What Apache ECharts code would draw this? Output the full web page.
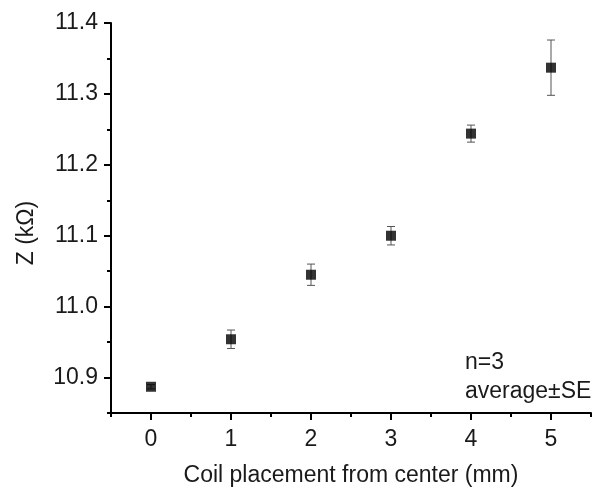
<!DOCTYPE html>
<html>
<head>
<meta charset="utf-8">
<script src="https://cdn.jsdelivr.net/npm/echarts@6/dist/echarts.min.js"></script>
<style>
  html, body { margin: 0; padding: 0; background: #fff; }
  #chart { width: 597px; height: 489px; }
</style>
</head>
<body>
<div id="chart"></div>
<script>
// coil offset (mm) vs impedance, mean and standard error
var placement = [0, 1, 2, 3, 4, 5];
var zMean = [10.887, 10.954, 11.045, 11.100, 11.244, 11.337];
var zSE = [0.003, 0.013, 0.015, 0.013, 0.012, 0.039];

var xMajor = [0, 1, 2, 3, 4, 5];
var xMinor = [-0.5, 0.5, 1.5, 2.5, 3.5, 4.5, 5.5];
var yMajor = [10.9, 11.0, 11.1, 11.2, 11.3, 11.4];
var yMinor = [10.85, 10.95, 11.05, 11.15, 11.25, 11.35];

var font = 'Liberation Sans, Arial, sans-serif';
var ink = '#1a1a1a';
var fs = 23;

var points = placement.map(function (x, i) { return [x, zMean[i]]; });
var bars = placement.map(function (x, i) { return [x, zMean[i] - zSE[i], zMean[i] + zSE[i]]; });

function errorBar(params, api) {
  var x = api.value(0);
  var lo = api.coord([x, api.value(1)]);
  var hi = api.coord([x, api.value(2)]);
  var cap = 4;
  var st = { stroke: '#555', lineWidth: 1 };
  return {
    type: 'group',
    children: [
      { type: 'line', shape: { x1: lo[0], y1: lo[1], x2: hi[0], y2: hi[1] }, style: st },
      { type: 'line', shape: { x1: lo[0] - cap, y1: lo[1], x2: lo[0] + cap, y2: lo[1] }, style: st },
      { type: 'line', shape: { x1: hi[0] - cap, y1: hi[1], x2: hi[0] + cap, y2: hi[1] }, style: st }
    ]
  };
}

var chart = echarts.init(document.getElementById('chart'));
chart.setOption({
  animation: false,
  backgroundColor: '#fff',
  grid: { left: 111, right: 6, top: 23, bottom: 76, containLabel: false, outerBoundsMode: 'none' },
  xAxis: [{
    type: 'value', min: -0.5, max: 5.5,
    name: 'Coil placement from center (mm)', nameLocation: 'middle', nameGap: 51,
    nameTextStyle: { fontFamily: font, fontSize: fs, color: ink },
    axisLine: { onZero: false, lineStyle: { color: '#000', width: 2 } },
    axisTick: { customValues: xMajor, length: 7, lineStyle: { color: '#000', width: 2 } },
    axisLabel: { customValues: xMajor, margin: 15, fontFamily: font, fontSize: fs, color: ink },
    splitLine: { show: false }
  }, {
    type: 'value', min: -0.5, max: 5.5, position: 'bottom', gridIndex: 0,
    axisLine: { show: false, onZero: false },
    axisTick: { customValues: xMinor, length: 4, lineStyle: { color: '#000', width: 2 } },
    axisLabel: { show: false },
    splitLine: { show: false }
  }],
  yAxis: [{
    type: 'value', min: 10.85, max: 11.4,
    name: 'Z (k\u03A9)', nameLocation: 'middle', nameGap: 73, nameRotate: 90,
    nameTextStyle: { fontFamily: font, fontSize: fs, color: ink, padding: [0, 30, 0, 0] },
    axisLine: { onZero: false, lineStyle: { color: '#000', width: 2 } },
    axisTick: { customValues: yMajor, length: 7, lineStyle: { color: '#000', width: 2 } },
    axisLabel: {
      customValues: yMajor, margin: 13, fontFamily: font, fontSize: fs, color: ink,
      formatter: function (v) { return v.toFixed(1); }
    },
    splitLine: { show: false }
  }, {
    type: 'value', min: 10.85, max: 11.4, position: 'left', gridIndex: 0,
    axisLine: { show: false, onZero: false },
    axisTick: { customValues: yMinor, length: 4, lineStyle: { color: '#000', width: 2 } },
    axisLabel: { show: false },
    splitLine: { show: false }
  }],
  series: [{
    type: 'custom',
    data: bars,
    renderItem: errorBar,
    z: 2
  }, {
    type: 'scatter',
    data: points,
    symbol: 'rect',
    symbolSize: 10,
    itemStyle: { color: '#000' },
    z: 3
  }],
  graphic: [{
    type: 'text', left: 465, top: 348,
    style: { text: 'n=3\naverage\u00B1SE', fontFamily: font, fontSize: fs, fill: ink, lineHeight: 29 }
  }]
});
</script>
</body>
</html>
